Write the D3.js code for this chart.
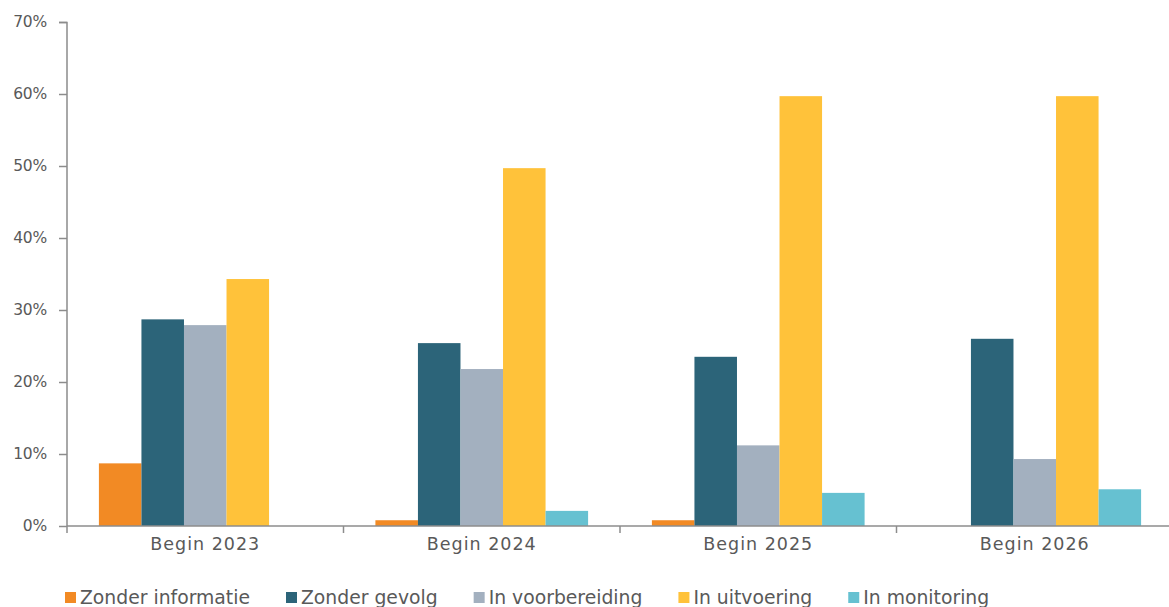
<!DOCTYPE html>
<html><head><meta charset="utf-8">
<script src="https://cdn.jsdelivr.net/npm/d3@7/dist/d3.min.js"></script>
<style>body{margin:0;background:#fff;} svg{display:block;}</style>
</head><body>
<svg id="c" width="1169" height="607"></svg>
<script>
const categories = ["Begin 2023", "Begin 2024", "Begin 2025", "Begin 2026"];
const seriesNames = ["Zonder informatie", "Zonder gevolg", "In voorbereiding", "In uitvoering", "In monitoring"];
const zonderInformatie = [8.7, 0.8, 0.8, 0];
const zonderGevolg = [28.7, 25.4, 23.5, 26.0];
const inVoorbereiding = [27.9, 21.8, 11.2, 9.3];
const inUitvoering = [34.3, 49.7, 59.7, 59.7];
const inMonitoring = [0, 2.1, 4.6, 5.1];
const yTicks = [0, 10, 20, 30, 40, 50, 60, 70];
const colors = ["#F28A24", "#2C6479", "#A3B0BF", "#FFC23A", "#66C1D1"];

const seriesValues = [zonderInformatie, zonderGevolg, inVoorbereiding, inUitvoering, inMonitoring];
const svg = d3.select("#c");
const font = "'DejaVu Sans', sans-serif";
const axisColor = "#8c8c8c";
const textColor = "#595959";

const x0 = d3.scaleBand().domain(categories).range([67, 1173]).paddingInner(0).paddingOuter(0);
const x1 = d3.scaleBand().domain(seriesNames).range([0, x0.bandwidth()]).paddingOuter(0.75).paddingInner(0);
const y = d3.scaleLinear().domain([0, 70]).range([526, 22]);

// bars
categories.forEach((cat, ci) => {
  svg.append("g").selectAll("rect")
    .data(seriesNames.map((s, si) => ({s, v: seriesValues[si][ci], c: colors[si]})))
    .join("rect")
    .attr("x", d => x0(cat) + x1(d.s))
    .attr("width", x1.bandwidth())
    .attr("y", d => y(d.v))
    .attr("height", d => y(0) - y(d.v))
    .attr("fill", d => d.c);
});

// y axis
const yAxis = svg.append("g").attr("transform", "translate(67,0)")
  .call(d3.axisLeft(y).tickValues(yTicks).tickFormat(d => d + "%").tickSize(8).tickPadding(12));
yAxis.select(".domain").attr("stroke", axisColor).attr("stroke-width", 1.5).attr("d", "M-8,22.5H0V526");
yAxis.selectAll(".tick line").attr("stroke", axisColor).attr("stroke-width", 1.5);
yAxis.selectAll(".tick text").attr("fill", textColor).style("font-family", font).style("font-size", "15.5px").style("letter-spacing", "-0.2px");

// x axis
const xAxis = svg.append("g").attr("transform", "translate(0,526)")
  .call(d3.axisBottom(x0).tickSize(0).tickPadding(12));
xAxis.select(".domain").attr("stroke", axisColor).attr("stroke-width", 1.5).attr("d", "M67,0H1169");
xAxis.selectAll(".tick text").attr("fill", textColor).style("font-family", font).style("font-size", "17.5px").style("letter-spacing", "1px");
// boundary ticks
svg.append("g").selectAll("line").data(categories.slice(1))
  .join("line")
  .attr("x1", d => x0(d)).attr("x2", d => x0(d))
  .attr("y1", 526).attr("y2", 533)
  .attr("stroke", axisColor).attr("stroke-width", 1.5);
svg.append("line").attr("x1", 67).attr("x2", 67).attr("y1", 526).attr("y2", 533)
  .attr("stroke", axisColor).attr("stroke-width", 1.5);

// legend
const legend = svg.append("g").attr("transform", "translate(65,0)");
let lx = 0;
seriesNames.forEach((s, i) => {
  const g = legend.append("g").attr("transform", `translate(${lx},0)`);
  g.append("rect").attr("x", 0).attr("y", 592).attr("width", 11).attr("height", 11).attr("fill", colors[i]);
  const t = g.append("text").attr("x", 15).attr("y", 604).text(s)
    .attr("fill", textColor).style("font-family", font).style("font-size", "18.8px");
  const w = t.node().getComputedTextLength();
  lx += 15 + w + 36;
});
</script>
</body></html>
